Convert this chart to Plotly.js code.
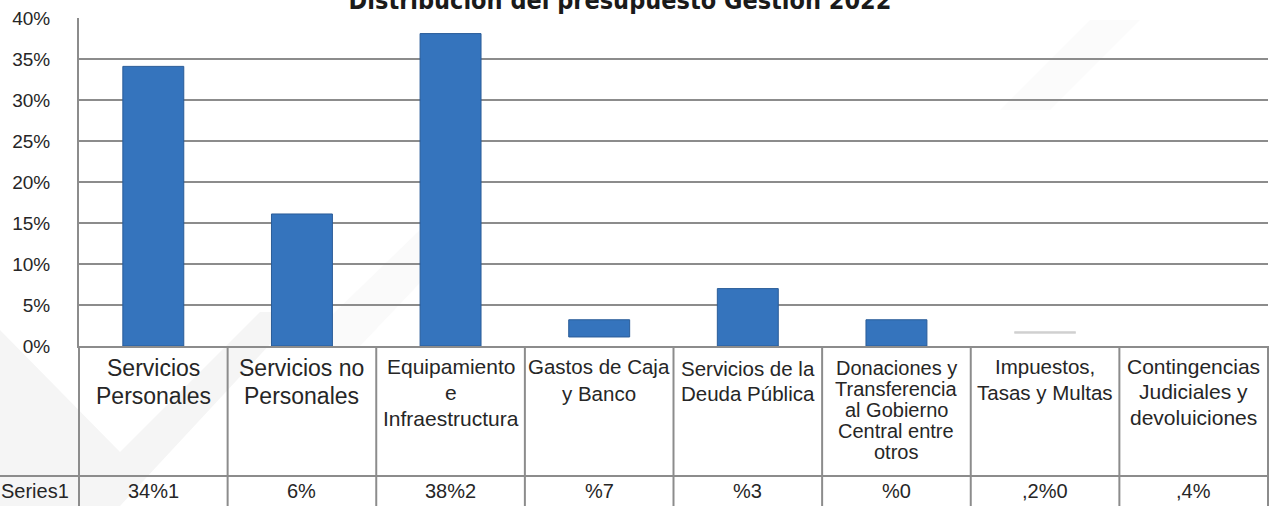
<!DOCTYPE html>
<html>
<head>
<meta charset="utf-8">
<script src="https://cdn.plot.ly/plotly-3.0.1.min.js"></script>
<style>
  html, body { margin: 0; padding: 0; background: #ffffff; }
  #chart { width: 1271px; height: 506px; }
</style>
</head>
<body>
<div id="chart"></div>
<script>
// ---------- data ----------
const chartTitle = "Distribución del presupuesto Gestión 2022";
const categories = [
  "Servicios Personales",
  "Servicios no Personales",
  "Equipamiento e Infraestructura",
  "Gastos de Caja y Banco",
  "Servicios de la Deuda Pública",
  "Donaciones y Transferencia al Gobierno Central entre otros",
  "Impuestos, Tasas y Multas",
  "Contingencias Judiciales y devoluiciones"
];
const categoryLabelLines = [
  ["Servicios", "Personales"],
  ["Servicios no", "Personales"],
  ["Equipamiento", "e", "Infraestructura"],
  ["Gastos de Caja", "y Banco"],
  ["Servicios de la", "Deuda Pública"],
  ["Donaciones y", "Transferencia", "al Gobierno", "Central entre", "otros"],
  ["Impuestos,", "Tasas y Multas"],
  ["Contingencias", "Judiciales y", "devoluiciones"]
];
const barTops  = [34.1, 16.1, 38.1, 3.2, 7.0, 3.2, 1.75, 0];
const barBases = [0, 0, 0, 1.1, 0, 0, 1.55, 0];
const seriesName = "Series1";
const tableValues = ["34%1", "6%", "38%2", "%7", "%3", "%0", ",2%0", ",4%"];
const yTickValues = [0, 5, 10, 15, 20, 25, 30, 35, 40];

// ---------- geometry / style (not data) ----------
const W = 1271, H = 506;
const L = 79, R = 3, T = 18, B = 160;
const plotW = W - L - R, plotH = H - T - B;
const axisBottomPx = H - B;           // 346
const xp = px => (px - L) / plotW;    // pixel -> paper x
const yp = py => (axisBottomPx - py) / plotH; // pixel -> paper y
const lineCol = "#8c8c8c";
const textCol = "#262626";
const font = "'Liberation Sans', Arial, Helvetica, sans-serif";

const labelFontSize = [23, 23, 21, 20.5, 20.5, 20, 20.5, 21];
const labelFirstOffset = [22, 22, 20, 20, 22, 22, 20, 20];
const labelSpacing = [28, 28, 26, 27, 25, 21, 26, 25.5];

const barColors = categories.map((c, i) => i === 6 ? "#cfcfcf" : "#3574bd");
const barLineColors = categories.map((c, i) => i === 6 ? "#d6d6d6" : "#2a5c98");
const barLineWidths = barTops.map((t, i) => (t - barBases[i]) > 0 ? 1 : 0);

const traces = [{
  type: "bar",
  x: categories,
  y: barTops.map((t, i) => t - barBases[i]),
  base: barBases,
  width: 0.41,
  marker: { color: barColors, line: { color: barLineColors, width: barLineWidths } },
  hoverinfo: "skip",
  showlegend: false
}];

const shapes = [];
// faint background chevron watermark
shapes.push({
  type: "path", xref: "paper", yref: "paper", layer: "below",
  path: `M ${xp(0)},${yp(330)} L ${xp(120)},${yp(452)} L ${xp(260)},${yp(312)} L ${xp(300)},${yp(312)} L ${xp(120)},${yp(506)} L ${xp(0)},${yp(506)} Z`,
  fillcolor: "#f5f5f5", line: { width: 0 }
});
shapes.push({
  type: "path", xref: "paper", yref: "paper", layer: "below",
  path: `M ${xp(300)},${yp(346)} L ${xp(420)},${yp(230)} L ${xp(470)},${yp(230)} L ${xp(360)},${yp(346)} Z`,
  fillcolor: "#fafafa", line: { width: 0 }
});
shapes.push({
  type: "path", xref: "paper", yref: "paper", layer: "below",
  path: `M ${xp(1000)},${yp(110)} L ${xp(1090)},${yp(20)} L ${xp(1140)},${yp(20)} L ${xp(1050)},${yp(110)} Z`,
  fillcolor: "#fbfbfb", line: { width: 0 }
});

// table: vertical column separators
for (let i = 0; i <= categories.length; i++) {
  const xx = i / categories.length;
  shapes.push({
    type: "line", xref: "paper", yref: "paper",
    x0: xx, x1: xx, y0: 0, y1: yp(H + 5),
    line: { color: lineCol, width: 2 }
  });
}
// row separator under category names
shapes.push({
  type: "line", xref: "paper", yref: "paper",
  x0: xp(0), x1: 1, y0: yp(476), y1: yp(476),
  line: { color: lineCol, width: 2 }
});

const annotations = [];
categories.forEach((c, i) => {
  categoryLabelLines[i].forEach((ln, k) => {
    annotations.push({
      x: (i + 0.5) / categories.length, xref: "paper",
      y: 0, yref: "paper",
      xanchor: "center", yanchor: "middle",
      yshift: -(labelFirstOffset[i] + k * labelSpacing[i]),
      text: ln, showarrow: false,
      font: { family: font, size: labelFontSize[i], color: textCol }
    });
  });
  annotations.push({
    x: (i + 0.5) / categories.length, xref: "paper",
    y: 0, yref: "paper",
    xanchor: "center", yanchor: "middle",
    yshift: -145,
    text: tableValues[i], showarrow: false,
    font: { family: font, size: 20, color: textCol }
  });
});
annotations.push({
  x: xp(-1), xref: "paper", y: 0, yref: "paper",
  xanchor: "left", yanchor: "middle", yshift: -145,
  text: seriesName, showarrow: false,
  font: { family: font, size: 20, color: textCol }
});

const layout = {
  width: W, height: H,
  margin: { l: L, r: R, t: T, b: B, pad: 0 },
  paper_bgcolor: "#ffffff",
  plot_bgcolor: "rgba(0,0,0,0)",
  title: {
    text: "<b>" + chartTitle + "</b>",
    font: { family: "'Liberation Sans Narrow', 'DejaVu Sans Condensed', 'Arial Narrow', sans-serif", size: 25, color: "#1a1a1a" },
    xref: "container", yref: "container",
    x: 620 / W, xanchor: "center",
    y: 1 - 9 / H, yanchor: "bottom"
  },
  xaxis: {
    type: "category",
    range: [-0.5, categories.length - 0.5],
    showticklabels: false, showgrid: false, zeroline: false,
    showline: true, linecolor: lineCol, linewidth: 2,
    ticks: "", fixedrange: true
  },
  yaxis: {
    range: [0, 40],
    tickvals: yTickValues,
    ticktext: yTickValues.map(v => v + "%"),
    showgrid: true, gridcolor: lineCol, gridwidth: 1.5,
    zeroline: false,
    showline: true, linecolor: lineCol, linewidth: 2,
    ticks: "", ticklabelstandoff: 23,
    tickfont: { family: font, size: 19, color: textCol },
    fixedrange: true
  },
  bargap: 0.59,
  shapes: shapes,
  annotations: annotations,
  showlegend: false
};

Plotly.newPlot("chart", traces, layout, { staticPlot: true, displayModeBar: false });
</script>
</body>
</html>
